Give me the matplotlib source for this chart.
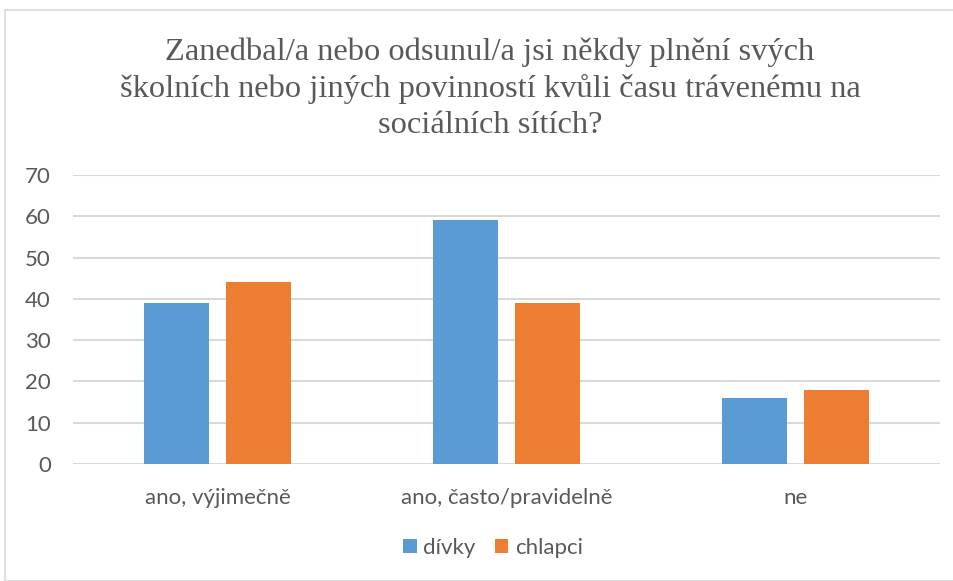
import matplotlib
matplotlib.use("Agg")
import matplotlib.pyplot as plt
import numpy as np
from matplotlib.patches import Rectangle

categories = ["ano, výjimečně", "ano, často/pravidelně", "ne"]
divky = [39, 59, 16]
chlapci = [44, 39, 18]
series_names = ["dívky", "chlapci"]
title = "Zanedbal/a nebo odsunul/a jsi někdy plnění svých\nškolních nebo jiných povinností kvůli času trávenému na\nsociálních sítích?"

W, H = 954, 581
fig = plt.figure(figsize=(W/100, H/100), dpi=100)
txt = "#595959"
font = ["Lato", "DejaVu Sans"]

# chart border
fig.patches.append(Rectangle((5/W, 0), 1.2, 1 - 10/H, transform=fig.transFigure,
                             fill=False, edgecolor="#D9D9D9", linewidth=1.2))

ax = fig.add_axes([73/W, 1 - 464/H, (940-73)/W, (464-175)/H])
x = np.arange(len(categories))
w = 0.225
off = 0.143
ax.bar(x - off, divky, w, color="#5B9BD5", label=series_names[0], zorder=3)
ax.bar(x + off, chlapci, w, color="#ED7D31", label=series_names[1], zorder=3)
ax.set_xlim(-0.5, 2.5)
ax.set_ylim(0, 70)
ax.set_yticks(range(0, 71, 10))
ax.grid(axis="y", color="#D9D9D9", linewidth=1.5, zorder=0)
for s in ax.spines.values():
    s.set_visible(False)
ax.tick_params(length=0)
ax.tick_params(axis="y", pad=16, labelsize=16, labelcolor=txt)
ax.tick_params(axis="x", pad=17, labelsize=16, labelcolor=txt)
ax.set_xticks(x)
ax.set_xticklabels(categories)
for lab in ax.get_xticklabels() + ax.get_yticklabels():
    lab.set_family(font)

fig.text(490/W, 1 - 89/H, title, ha="center", va="center", fontsize=23.4,
         family="Liberation Serif", color=txt, linespacing=1.3, multialignment="center")

leg = ax.legend(loc="center", bbox_to_anchor=(493/W, 1 - 548/H), bbox_transform=fig.transFigure,
                ncol=2, frameon=False, handlelength=0.6, handleheight=0.6, handletextpad=0.3,
                columnspacing=0.85, prop={"family": font, "size": 16})
for t in leg.get_texts():
    t.set_color(txt)

fig.savefig("out.png", dpi=100)
